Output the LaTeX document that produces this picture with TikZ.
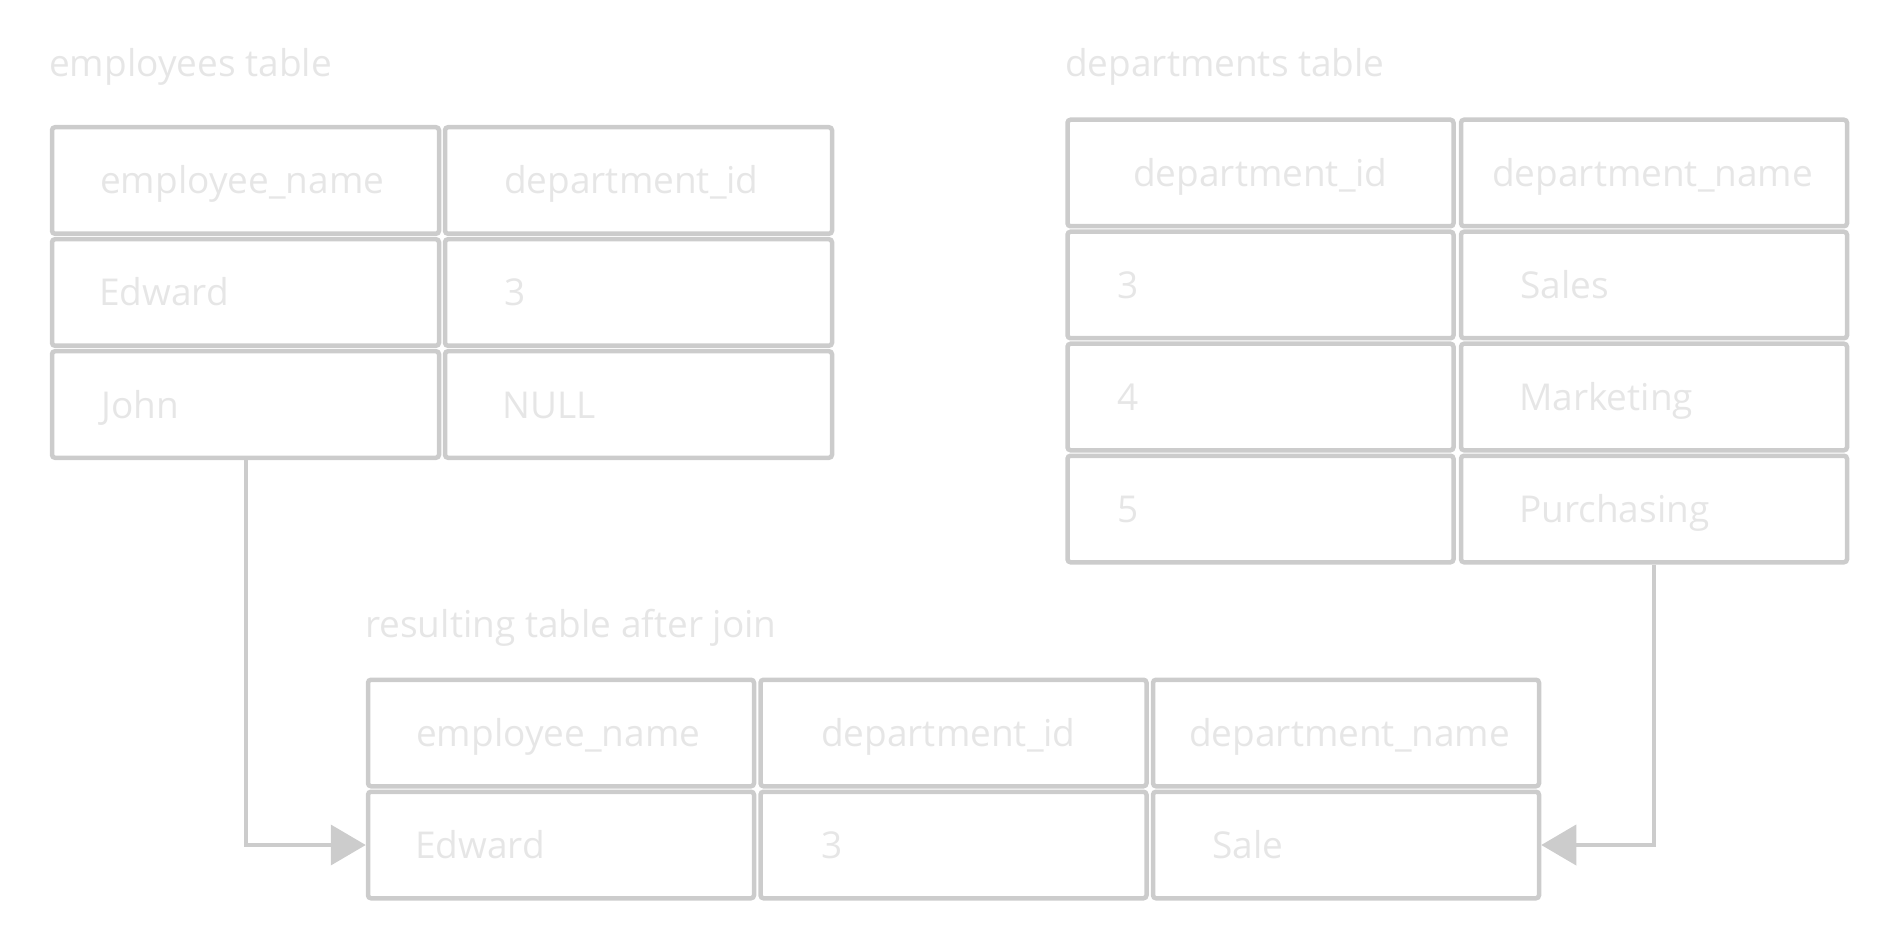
\documentclass[tikz,border=0pt]{standalone}
\usepackage{fontspec}
\setmainfont{Open Sans}
\usetikzlibrary{arrows.meta}
\definecolor{bordercol}{HTML}{CCCCCC}
\definecolor{textcol}{HTML}{E6E6E6}
\tikzset{
  cell/.style={draw=bordercol, line width=4.5pt, rounded corners=3pt, inner sep=0pt,
    minimum width=386pt, minimum height=106.5pt},
  ecell/.style={cell, minimum width=387pt},
  txt/.style={anchor=base west, inner sep=0pt, text=textcol,
    font=\fontsize{37}{44}\selectfont},
  conn/.style={draw=bordercol, line width=4pt,
    -{Triangle[length=35pt,width=40pt]}}
}
\begin{document}
\begin{tikzpicture}[x=1pt,y=-1pt]
\useasboundingbox (0,0) rectangle (1900,949);

% titles
\node[txt] (t1) at (49,77) {employees table};
\node[txt] (t2) at (1065,77) {departments table};
\node[txt] (t3) at (365,637) {resulting table after join};

% employees table
\node[ecell] (e11) at (245.5,180.5) {};
\node[ecell] (e12) at (638.5,180.5) {};
\node[ecell] (e21) at (245.5,292.5) {};
\node[ecell] (e22) at (638.5,292.5) {};
\node[ecell] (e31) at (245.5,404.5) {};
\node[ecell] (e32) at (638.5,404.5) {};
\node[txt] (et11) at (100,194) {employee\_name};
\node[txt] (et12) at (504,194) {department\_id};
\node[txt] (et21) at (99,306) {Edward};
\node[txt] (et22) at (504,306) {3};
\node[txt] (et31) at (101,418) {John};
\node[txt] (et32) at (502,418) {NULL};

% departments table
\node[cell] (d11) at (1260.5,173) {};
\node[cell] (d12) at (1654,173) {};
\node[cell] (d21) at (1260.5,285) {};
\node[cell] (d22) at (1654,285) {};
\node[cell] (d31) at (1260.5,397) {};
\node[cell] (d32) at (1654,397) {};
\node[cell] (d41) at (1260.5,509) {};
\node[cell] (d42) at (1654,509) {};
\node[txt] (dt11) at (1133,186.5) {department\_id};
\node[txt] (dt12) at (1492,186.5) {department\_name};
\node[txt] (dt21) at (1117,298.5) {3};
\node[txt] (dt22) at (1520,298.5) {Sales};
\node[txt] (dt31) at (1117,410.5) {4};
\node[txt] (dt32) at (1519,410.5) {Marketing};
\node[txt] (dt41) at (1117,522.5) {5};
\node[txt] (dt42) at (1519,522.5) {Purchasing};

% result table
\node[cell] (r11) at (561,733) {};
\node[cell] (r12) at (953.5,733) {};
\node[cell] (r13) at (1346,733) {};
\node[cell] (r21) at (561,845) {};
\node[cell] (r22) at (953.5,845) {};
\node[cell] (r23) at (1346,845) {};
\node[txt] (rt11) at (416,746.5) {employee\_name};
\node[txt] (rt12) at (821,746.5) {department\_id};
\node[txt] (rt13) at (1189,746.5) {department\_name};
\node[txt] (rt21) at (415,858.5) {Edward};
\node[txt] (rt22) at (821,858.5) {3};
\node[txt] (rt23) at (1212,858.5) {Sale};

% connectors
\draw[conn] (e31.south) |- (r21.west);
\draw[conn] (d42.south) |- (r23.east);
\end{tikzpicture}
\end{document}
